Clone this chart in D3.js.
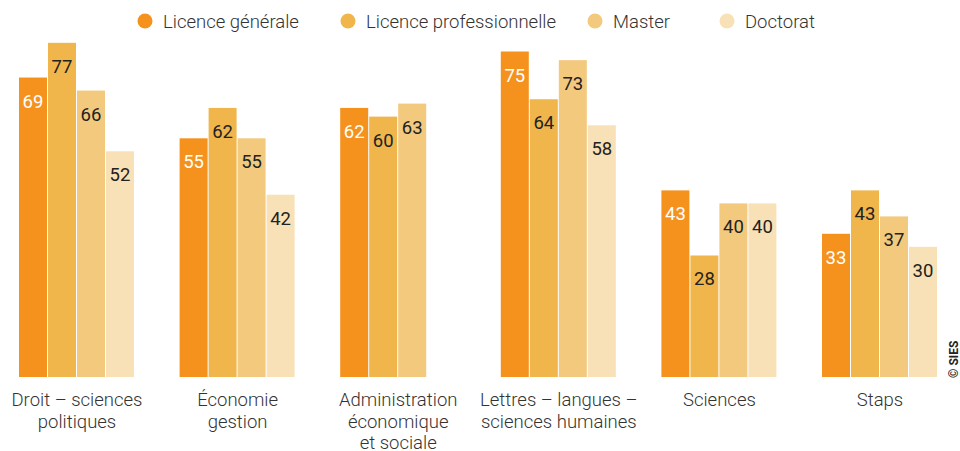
<!DOCTYPE html>
<html>
<head>
<meta charset="utf-8">
<script src="https://cdn.jsdelivr.net/npm/d3@7"></script>
<style>
  body { margin: 0; background: #fff; }
  svg { font-family: Roboto, "Noto Sans", sans-serif; }
</style>
</head>
<body>
<div class="container"></div>
<script>
var svgWidth = 960;
var svgHeight = 451;

// data
var categories = [
  "Droit – sciences|politiques",
  "Économie|gestion",
  "Administration|économique|et sociale",
  "Lettres – langues –|sciences humaines",
  "Sciences",
  "Staps"
];
var series = ["Licence générale", "Licence professionnelle", "Master", "Doctorat"];
var licenceGenerale = [69, 55, 62, 75, 43, 33];
var licencePro = [77, 62, 60, 64, 28, 43];
var master = [66, 55, 63, 73, 40, 37];
var doctorat = [52, 42, null, 58, 40, 30];
var colors = ["#f5921e", "#f0b64c", "#f3c97d", "#f8e1b6"];
var labelColors = ["#ffffff", "#222222", "#222222", "#222222"];

var values = [licenceGenerale, licencePro, master, doctorat];

var svg = d3.select(".container")
  .append("svg")
  .attr("width", svgWidth)
  .attr("height", svgHeight);

var baseline = 377;

var x0 = d3.scaleBand()
  .domain(categories)
  .range([19, 19 + 6 * 160.6]);

var x1 = d3.scaleBand()
  .domain(series)
  .range([0, 116]);

var y = d3.scaleLinear()
  .domain([0, 80])
  .range([baseline, baseline - 80 * 4.34]);

// bars
var rows = [];
categories.forEach(function(c, i) {
  series.forEach(function(s, j) {
    if (values[j][i] != null) {
      rows.push({cat: c, ser: s, idx: j, value: values[j][i]});
    }
  });
});

var bars = svg.append("g");
bars.selectAll("rect")
  .data(rows)
  .enter()
  .append("rect")
  .attr("x", d => x0(d.cat) + x1(d.ser))
  .attr("y", d => y(d.value))
  .attr("width", x1.bandwidth() - 1)
  .attr("height", d => baseline - y(d.value))
  .attr("fill", d => colors[d.idx]);

bars.selectAll("text")
  .data(rows)
  .enter()
  .append("text")
  .attr("x", d => x0(d.cat) + x1(d.ser) + (x1.bandwidth() - 1) / 2)
  .attr("y", d => y(d.value) + 30)
  .attr("text-anchor", "middle")
  .attr("font-size", 18.5)
  .attr("font-weight", 400)
  .attr("fill", d => labelColors[d.idx])
  .text(d => d.value);

// category labels
var catLabels = svg.append("g");
categories.forEach(function(c) {
  var t = catLabels.append("text")
    .attr("x", x0(c) + 58)
    .attr("y", 406)
    .attr("text-anchor", "middle")
    .attr("font-size", 18.5)
    .attr("font-weight", 300)
    .attr("fill", "#333");
  c.split("|").forEach(function(line, k) {
    t.append("tspan")
      .attr("x", x0(c) + 58)
      .attr("dy", k === 0 ? 0 : 21.5)
      .text(line);
  });
});

// legend
var legendX = [145, 348, 595, 727];
var legend = svg.append("g");
series.forEach(function(s, j) {
  legend.append("circle")
    .attr("cx", legendX[j])
    .attr("cy", 21)
    .attr("r", 7.5)
    .attr("fill", colors[j]);
  legend.append("text")
    .attr("x", legendX[j] + 18)
    .attr("y", 27.5)
    .attr("font-size", 18.5)
    .attr("font-weight", 300)
    .attr("fill", "#333")
    .text(s);
});

// source
svg.append("text")
  .attr("transform", "translate(958, 378) rotate(-90)")
  .attr("font-size", 12)
  .attr("font-weight", 700)
  .attr("fill", "#222")
  .text("© SIES");
</script>
</body>
</html>
